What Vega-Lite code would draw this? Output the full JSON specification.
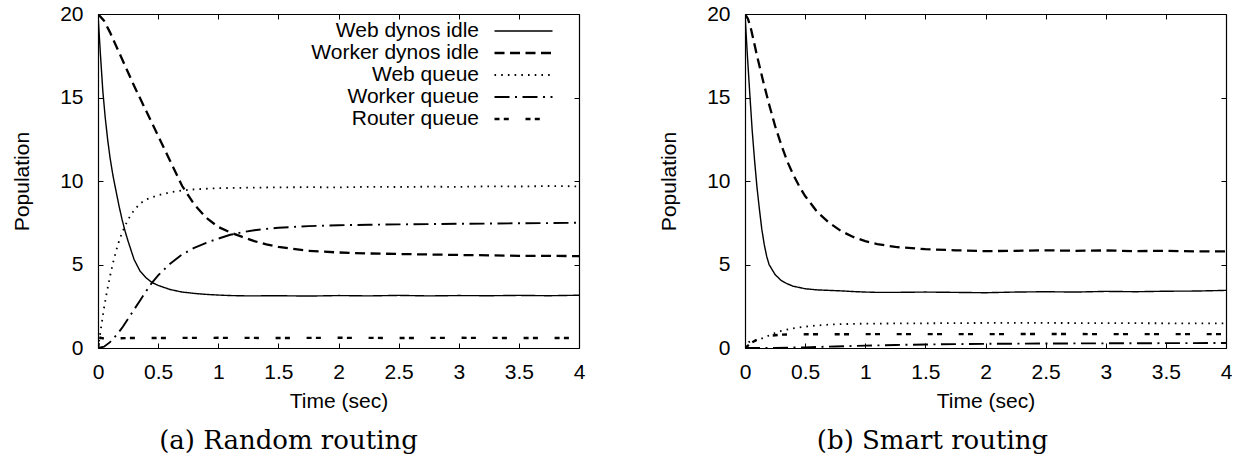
{
  "$schema": "https://vega.github.io/schema/vega-lite/v6.json",
  "padding": {"left": 11, "top": 3, "right": 0, "bottom": 0},
  "spacing": 73,
  "config": {
    "view": {"stroke": null},
    "font": "Liberation Sans",
    "axis": {"grid": false, "domainColor": "black", "domainWidth": 1.2, "tickColor": "black", "tickWidth": 1, "tickSize": -5, "labelColor": "black", "labelFont": "Liberation Sans", "labelFontSize": 21, "titleFont": "Liberation Sans", "titleFontSize": 21, "titleFontWeight": "normal", "titleColor": "black", "labelFlush": false, "labelOverlap": false}
  },
  "data": {"values": [
    {"p":"a","s":"Web dynos idle","t":0,"v":20},{"p":"a","s":"Web dynos idle","t":0.02,"v":17.6},{"p":"a","s":"Web dynos idle","t":0.04,"v":15.4},{"p":"a","s":"Web dynos idle","t":0.06,"v":13.8},{"p":"a","s":"Web dynos idle","t":0.08,"v":12.5},{"p":"a","s":"Web dynos idle","t":0.1,"v":11.4},{"p":"a","s":"Web dynos idle","t":0.125,"v":10.3},{"p":"a","s":"Web dynos idle","t":0.15,"v":9.4},{"p":"a","s":"Web dynos idle","t":0.175,"v":8.5},{"p":"a","s":"Web dynos idle","t":0.2,"v":7.7},{"p":"a","s":"Web dynos idle","t":0.225,"v":7.0},{"p":"a","s":"Web dynos idle","t":0.25,"v":6.4},{"p":"a","s":"Web dynos idle","t":0.3,"v":5.3},{"p":"a","s":"Web dynos idle","t":0.35,"v":4.6},{"p":"a","s":"Web dynos idle","t":0.4,"v":4.2},{"p":"a","s":"Web dynos idle","t":0.45,"v":3.92},{"p":"a","s":"Web dynos idle","t":0.5,"v":3.75},{"p":"a","s":"Web dynos idle","t":0.6,"v":3.5},{"p":"a","s":"Web dynos idle","t":0.7,"v":3.35},{"p":"a","s":"Web dynos idle","t":0.8,"v":3.27},{"p":"a","s":"Web dynos idle","t":0.9,"v":3.21},{"p":"a","s":"Web dynos idle","t":1.0,"v":3.17},{"p":"a","s":"Web dynos idle","t":1.1,"v":3.14},{"p":"a","s":"Web dynos idle","t":1.25,"v":3.12},{"p":"a","s":"Web dynos idle","t":1.5,"v":3.13},{"p":"a","s":"Web dynos idle","t":1.75,"v":3.11},{"p":"a","s":"Web dynos idle","t":2.0,"v":3.14},{"p":"a","s":"Web dynos idle","t":2.25,"v":3.12},{"p":"a","s":"Web dynos idle","t":2.5,"v":3.15},{"p":"a","s":"Web dynos idle","t":2.75,"v":3.12},{"p":"a","s":"Web dynos idle","t":3.0,"v":3.14},{"p":"a","s":"Web dynos idle","t":3.25,"v":3.13},{"p":"a","s":"Web dynos idle","t":3.5,"v":3.15},{"p":"a","s":"Web dynos idle","t":3.75,"v":3.13},{"p":"a","s":"Web dynos idle","t":4.0,"v":3.16},
    {"p":"a","s":"Worker dynos idle","t":0,"v":20},{"p":"a","s":"Worker dynos idle","t":0.05,"v":19.6},{"p":"a","s":"Worker dynos idle","t":0.1,"v":18.9},{"p":"a","s":"Worker dynos idle","t":0.15,"v":18.1},{"p":"a","s":"Worker dynos idle","t":0.2,"v":17.3},{"p":"a","s":"Worker dynos idle","t":0.3,"v":15.7},{"p":"a","s":"Worker dynos idle","t":0.4,"v":14.2},{"p":"a","s":"Worker dynos idle","t":0.5,"v":12.7},{"p":"a","s":"Worker dynos idle","t":0.6,"v":11.2},{"p":"a","s":"Worker dynos idle","t":0.7,"v":9.7},{"p":"a","s":"Worker dynos idle","t":0.8,"v":8.6},{"p":"a","s":"Worker dynos idle","t":0.9,"v":7.8},{"p":"a","s":"Worker dynos idle","t":1.0,"v":7.25},{"p":"a","s":"Worker dynos idle","t":1.1,"v":6.92},{"p":"a","s":"Worker dynos idle","t":1.2,"v":6.65},{"p":"a","s":"Worker dynos idle","t":1.3,"v":6.4},{"p":"a","s":"Worker dynos idle","t":1.4,"v":6.2},{"p":"a","s":"Worker dynos idle","t":1.5,"v":6.05},{"p":"a","s":"Worker dynos idle","t":1.75,"v":5.82},{"p":"a","s":"Worker dynos idle","t":2.0,"v":5.72},{"p":"a","s":"Worker dynos idle","t":2.25,"v":5.66},{"p":"a","s":"Worker dynos idle","t":2.5,"v":5.63},{"p":"a","s":"Worker dynos idle","t":2.75,"v":5.6},{"p":"a","s":"Worker dynos idle","t":3.0,"v":5.57},{"p":"a","s":"Worker dynos idle","t":3.25,"v":5.55},{"p":"a","s":"Worker dynos idle","t":3.5,"v":5.52},{"p":"a","s":"Worker dynos idle","t":3.75,"v":5.52},{"p":"a","s":"Worker dynos idle","t":4.0,"v":5.5},
    {"p":"a","s":"Web queue","t":0,"v":0},{"p":"a","s":"Web queue","t":0.025,"v":1.2},{"p":"a","s":"Web queue","t":0.05,"v":2.4},{"p":"a","s":"Web queue","t":0.075,"v":3.4},{"p":"a","s":"Web queue","t":0.1,"v":4.3},{"p":"a","s":"Web queue","t":0.125,"v":5.1},{"p":"a","s":"Web queue","t":0.15,"v":5.8},{"p":"a","s":"Web queue","t":0.175,"v":6.4},{"p":"a","s":"Web queue","t":0.2,"v":6.9},{"p":"a","s":"Web queue","t":0.25,"v":7.7},{"p":"a","s":"Web queue","t":0.3,"v":8.25},{"p":"a","s":"Web queue","t":0.35,"v":8.65},{"p":"a","s":"Web queue","t":0.4,"v":8.9},{"p":"a","s":"Web queue","t":0.5,"v":9.15},{"p":"a","s":"Web queue","t":0.6,"v":9.32},{"p":"a","s":"Web queue","t":0.7,"v":9.43},{"p":"a","s":"Web queue","t":0.8,"v":9.5},{"p":"a","s":"Web queue","t":1.0,"v":9.57},{"p":"a","s":"Web queue","t":1.25,"v":9.6},{"p":"a","s":"Web queue","t":1.5,"v":9.62},{"p":"a","s":"Web queue","t":1.75,"v":9.63},{"p":"a","s":"Web queue","t":2.0,"v":9.62},{"p":"a","s":"Web queue","t":2.25,"v":9.65},{"p":"a","s":"Web queue","t":2.5,"v":9.64},{"p":"a","s":"Web queue","t":2.75,"v":9.66},{"p":"a","s":"Web queue","t":3.0,"v":9.65},{"p":"a","s":"Web queue","t":3.25,"v":9.68},{"p":"a","s":"Web queue","t":3.5,"v":9.67},{"p":"a","s":"Web queue","t":3.75,"v":9.7},{"p":"a","s":"Web queue","t":4.0,"v":9.68},
    {"p":"a","s":"Worker queue","t":0,"v":0},{"p":"a","s":"Worker queue","t":0.05,"v":0.08},{"p":"a","s":"Worker queue","t":0.1,"v":0.35},{"p":"a","s":"Worker queue","t":0.15,"v":0.75},{"p":"a","s":"Worker queue","t":0.2,"v":1.2},{"p":"a","s":"Worker queue","t":0.25,"v":1.75},{"p":"a","s":"Worker queue","t":0.3,"v":2.3},{"p":"a","s":"Worker queue","t":0.35,"v":2.85},{"p":"a","s":"Worker queue","t":0.4,"v":3.4},{"p":"a","s":"Worker queue","t":0.45,"v":3.92},{"p":"a","s":"Worker queue","t":0.5,"v":4.35},{"p":"a","s":"Worker queue","t":0.6,"v":5.05},{"p":"a","s":"Worker queue","t":0.7,"v":5.6},{"p":"a","s":"Worker queue","t":0.8,"v":6.0},{"p":"a","s":"Worker queue","t":0.9,"v":6.3},{"p":"a","s":"Worker queue","t":1.0,"v":6.55},{"p":"a","s":"Worker queue","t":1.1,"v":6.78},{"p":"a","s":"Worker queue","t":1.2,"v":6.93},{"p":"a","s":"Worker queue","t":1.3,"v":7.05},{"p":"a","s":"Worker queue","t":1.4,"v":7.13},{"p":"a","s":"Worker queue","t":1.5,"v":7.2},{"p":"a","s":"Worker queue","t":1.75,"v":7.3},{"p":"a","s":"Worker queue","t":2.0,"v":7.35},{"p":"a","s":"Worker queue","t":2.25,"v":7.38},{"p":"a","s":"Worker queue","t":2.5,"v":7.4},{"p":"a","s":"Worker queue","t":2.75,"v":7.42},{"p":"a","s":"Worker queue","t":3.0,"v":7.44},{"p":"a","s":"Worker queue","t":3.25,"v":7.45},{"p":"a","s":"Worker queue","t":3.5,"v":7.47},{"p":"a","s":"Worker queue","t":3.75,"v":7.48},{"p":"a","s":"Worker queue","t":4.0,"v":7.5},
    {"p":"a","s":"Router queue","t":0,"v":0},{"p":"a","s":"Router queue","t":0.01,"v":0.45},{"p":"a","s":"Router queue","t":0.02,"v":0.62},{"p":"a","s":"Router queue","t":0.04,"v":0.58},{"p":"a","s":"Router queue","t":0.08,"v":0.56},{"p":"a","s":"Router queue","t":0.15,"v":0.58},{"p":"a","s":"Router queue","t":0.3,"v":0.6},{"p":"a","s":"Router queue","t":0.5,"v":0.6},{"p":"a","s":"Router queue","t":1.0,"v":0.61},{"p":"a","s":"Router queue","t":1.5,"v":0.6},{"p":"a","s":"Router queue","t":2.0,"v":0.61},{"p":"a","s":"Router queue","t":2.5,"v":0.6},{"p":"a","s":"Router queue","t":3.0,"v":0.61},{"p":"a","s":"Router queue","t":3.5,"v":0.6},{"p":"a","s":"Router queue","t":4.0,"v":0.6},
    {"p":"b","s":"Web dynos idle","t":0,"v":20},{"p":"b","s":"Web dynos idle","t":0.02,"v":17.5},{"p":"b","s":"Web dynos idle","t":0.04,"v":15.2},{"p":"b","s":"Web dynos idle","t":0.06,"v":13.0},{"p":"b","s":"Web dynos idle","t":0.08,"v":11.2},{"p":"b","s":"Web dynos idle","t":0.1,"v":9.6},{"p":"b","s":"Web dynos idle","t":0.12,"v":8.3},{"p":"b","s":"Web dynos idle","t":0.14,"v":7.1},{"p":"b","s":"Web dynos idle","t":0.16,"v":6.2},{"p":"b","s":"Web dynos idle","t":0.18,"v":5.5},{"p":"b","s":"Web dynos idle","t":0.2,"v":5.0},{"p":"b","s":"Web dynos idle","t":0.25,"v":4.4},{"p":"b","s":"Web dynos idle","t":0.3,"v":4.05},{"p":"b","s":"Web dynos idle","t":0.35,"v":3.85},{"p":"b","s":"Web dynos idle","t":0.4,"v":3.7},{"p":"b","s":"Web dynos idle","t":0.5,"v":3.55},{"p":"b","s":"Web dynos idle","t":0.6,"v":3.48},{"p":"b","s":"Web dynos idle","t":0.7,"v":3.45},{"p":"b","s":"Web dynos idle","t":0.8,"v":3.42},{"p":"b","s":"Web dynos idle","t":0.9,"v":3.38},{"p":"b","s":"Web dynos idle","t":1.0,"v":3.35},{"p":"b","s":"Web dynos idle","t":1.1,"v":3.33},{"p":"b","s":"Web dynos idle","t":1.25,"v":3.33},{"p":"b","s":"Web dynos idle","t":1.5,"v":3.35},{"p":"b","s":"Web dynos idle","t":1.75,"v":3.33},{"p":"b","s":"Web dynos idle","t":2.0,"v":3.31},{"p":"b","s":"Web dynos idle","t":2.25,"v":3.35},{"p":"b","s":"Web dynos idle","t":2.5,"v":3.37},{"p":"b","s":"Web dynos idle","t":2.75,"v":3.35},{"p":"b","s":"Web dynos idle","t":3.0,"v":3.39},{"p":"b","s":"Web dynos idle","t":3.25,"v":3.37},{"p":"b","s":"Web dynos idle","t":3.5,"v":3.4},{"p":"b","s":"Web dynos idle","t":3.75,"v":3.41},{"p":"b","s":"Web dynos idle","t":4.0,"v":3.45},
    {"p":"b","s":"Worker dynos idle","t":0,"v":20},{"p":"b","s":"Worker dynos idle","t":0.025,"v":19.7},{"p":"b","s":"Worker dynos idle","t":0.05,"v":19.1},{"p":"b","s":"Worker dynos idle","t":0.075,"v":18.3},{"p":"b","s":"Worker dynos idle","t":0.1,"v":17.5},{"p":"b","s":"Worker dynos idle","t":0.15,"v":16.0},{"p":"b","s":"Worker dynos idle","t":0.2,"v":14.6},{"p":"b","s":"Worker dynos idle","t":0.25,"v":13.3},{"p":"b","s":"Worker dynos idle","t":0.3,"v":12.2},{"p":"b","s":"Worker dynos idle","t":0.35,"v":11.2},{"p":"b","s":"Worker dynos idle","t":0.4,"v":10.4},{"p":"b","s":"Worker dynos idle","t":0.45,"v":9.7},{"p":"b","s":"Worker dynos idle","t":0.5,"v":9.1},{"p":"b","s":"Worker dynos idle","t":0.6,"v":8.15},{"p":"b","s":"Worker dynos idle","t":0.7,"v":7.5},{"p":"b","s":"Worker dynos idle","t":0.8,"v":7.0},{"p":"b","s":"Worker dynos idle","t":0.9,"v":6.65},{"p":"b","s":"Worker dynos idle","t":1.0,"v":6.4},{"p":"b","s":"Worker dynos idle","t":1.1,"v":6.22},{"p":"b","s":"Worker dynos idle","t":1.25,"v":6.05},{"p":"b","s":"Worker dynos idle","t":1.5,"v":5.92},{"p":"b","s":"Worker dynos idle","t":1.75,"v":5.85},{"p":"b","s":"Worker dynos idle","t":2.0,"v":5.8},{"p":"b","s":"Worker dynos idle","t":2.25,"v":5.82},{"p":"b","s":"Worker dynos idle","t":2.5,"v":5.85},{"p":"b","s":"Worker dynos idle","t":2.75,"v":5.82},{"p":"b","s":"Worker dynos idle","t":3.0,"v":5.84},{"p":"b","s":"Worker dynos idle","t":3.25,"v":5.8},{"p":"b","s":"Worker dynos idle","t":3.5,"v":5.82},{"p":"b","s":"Worker dynos idle","t":3.75,"v":5.78},{"p":"b","s":"Worker dynos idle","t":4.0,"v":5.78},
    {"p":"b","s":"Web queue","t":0,"v":0},{"p":"b","s":"Web queue","t":0.03,"v":0.35},{"p":"b","s":"Web queue","t":0.06,"v":0.42},{"p":"b","s":"Web queue","t":0.1,"v":0.48},{"p":"b","s":"Web queue","t":0.15,"v":0.6},{"p":"b","s":"Web queue","t":0.2,"v":0.75},{"p":"b","s":"Web queue","t":0.25,"v":0.9},{"p":"b","s":"Web queue","t":0.3,"v":1.02},{"p":"b","s":"Web queue","t":0.4,"v":1.18},{"p":"b","s":"Web queue","t":0.5,"v":1.28},{"p":"b","s":"Web queue","t":0.6,"v":1.35},{"p":"b","s":"Web queue","t":0.7,"v":1.4},{"p":"b","s":"Web queue","t":0.8,"v":1.43},{"p":"b","s":"Web queue","t":1.0,"v":1.46},{"p":"b","s":"Web queue","t":1.5,"v":1.48},{"p":"b","s":"Web queue","t":2.0,"v":1.5},{"p":"b","s":"Web queue","t":2.5,"v":1.5},{"p":"b","s":"Web queue","t":3.0,"v":1.49},{"p":"b","s":"Web queue","t":3.5,"v":1.48},{"p":"b","s":"Web queue","t":4.0,"v":1.48},
    {"p":"b","s":"Worker queue","t":0,"v":0},{"p":"b","s":"Worker queue","t":0.25,"v":0.01},{"p":"b","s":"Worker queue","t":0.5,"v":0.04},{"p":"b","s":"Worker queue","t":0.75,"v":0.09},{"p":"b","s":"Worker queue","t":1.0,"v":0.14},{"p":"b","s":"Worker queue","t":1.25,"v":0.18},{"p":"b","s":"Worker queue","t":1.5,"v":0.21},{"p":"b","s":"Worker queue","t":1.75,"v":0.23},{"p":"b","s":"Worker queue","t":2.0,"v":0.25},{"p":"b","s":"Worker queue","t":2.5,"v":0.27},{"p":"b","s":"Worker queue","t":3.0,"v":0.28},{"p":"b","s":"Worker queue","t":3.5,"v":0.29},{"p":"b","s":"Worker queue","t":4.0,"v":0.3},
    {"p":"b","s":"Router queue","t":0,"v":0},{"p":"b","s":"Router queue","t":0.05,"v":0.3},{"p":"b","s":"Router queue","t":0.1,"v":0.5},{"p":"b","s":"Router queue","t":0.15,"v":0.62},{"p":"b","s":"Router queue","t":0.2,"v":0.72},{"p":"b","s":"Router queue","t":0.3,"v":0.8},{"p":"b","s":"Router queue","t":0.5,"v":0.82},{"p":"b","s":"Router queue","t":1.0,"v":0.83},{"p":"b","s":"Router queue","t":1.5,"v":0.83},{"p":"b","s":"Router queue","t":2.0,"v":0.83},{"p":"b","s":"Router queue","t":2.5,"v":0.84},{"p":"b","s":"Router queue","t":3.0,"v":0.83},{"p":"b","s":"Router queue","t":3.5,"v":0.83},{"p":"b","s":"Router queue","t":4.0,"v":0.83}
  ]},
  "hconcat": [
    {
      "width": 481, "height": 334,
      "title": {"text": "(a) Random routing", "orient": "bottom", "anchor": "middle", "frame": "group", "dx": -50, "font": "DejaVu Serif", "fontSize": 26, "fontWeight": "normal", "color": "black", "offset": 17},
      "transform": [{"filter": "datum.p == 'a'"}],
      "layer": [
        {
          "mark": {"type": "line", "color": "black", "clip": true},
          "encoding": {
            "x": {"field": "t", "type": "quantitative", "scale": {"domain": [0, 4], "nice": false, "zero": false}, "axis": {"orient": "bottom", "values": [0, 0.5, 1, 1.5, 2, 2.5, 3, 3.5, 4], "format": "~g", "title": "Time (sec)", "labelPadding": 18, "titlePadding": 8}},
            "y": {"field": "v", "type": "quantitative", "scale": {"domain": [0, 20], "nice": false}, "axis": {"orient": "left", "values": [0, 5, 10, 15, 20], "title": "Population", "labelPadding": 20, "titlePadding": 27}},
            "strokeDash": {"field": "s", "type": "nominal", "scale": {"domain": ["Web dynos idle", "Worker dynos idle", "Web queue", "Worker queue", "Router queue"], "range": [[1, 0], [10, 5.5], [1.6, 5.1], [15, 5.5, 2, 5.5], [5, 4.3, 5, 16.7]]}, "legend": {"orient": "none", "legendX": 395, "legendY": 6, "title": null, "labelAlign": "right", "labelOffset": -75, "symbolSize": 3364, "clipHeight": 22, "symbolType": "stroke", "labelFont": "Liberation Sans", "labelFontSize": 21, "labelColor": "black", "symbolStrokeColor": "black", "rowPadding": 0, "padding": 0, "labelLimit": 0, "encode": {"entries": {"update": {"width": {"value": 72}, "height": {"value": 22}}}}}},
            "strokeWidth": {"field": "s", "type": "ordinal", "scale": {"type": "ordinal", "domain": ["Web dynos idle", "Worker dynos idle", "Web queue", "Worker queue", "Router queue"], "range": [1.4, 2.3, 1.8, 1.9, 2.4]}, "legend": {"orient": "none", "legendX": 395, "legendY": 6, "title": null, "labelAlign": "right", "labelOffset": -75, "symbolSize": 3364, "clipHeight": 22, "symbolType": "stroke", "labelFont": "Liberation Sans", "labelFontSize": 21, "labelColor": "black", "symbolStrokeColor": "black", "rowPadding": 0, "padding": 0, "labelLimit": 0, "encode": {"entries": {"update": {"width": {"value": 72}, "height": {"value": 22}}}}}}
          }
        },
        {
          "mark": {"type": "point", "opacity": 0},
          "encoding": {
            "x": {"field": "t", "type": "quantitative", "scale": {"domain": [0, 4], "nice": false, "zero": false}, "axis": {"orient": "top", "values": [0, 0.5, 1, 1.5, 2, 2.5, 3, 3.5, 4], "labels": false, "title": null}},
            "y": {"field": "v", "type": "quantitative", "scale": {"domain": [0, 20], "nice": false}, "axis": {"orient": "right", "values": [0, 5, 10, 15, 20], "labels": false, "title": null}}
          }
        }
      ],
      "resolve": {"axis": {"x": "independent", "y": "independent"}}
    },
    {
      "width": 481, "height": 334,
      "title": {"text": "(b) Smart routing", "orient": "bottom", "anchor": "middle", "frame": "group", "dx": -53, "font": "DejaVu Serif", "fontSize": 26, "fontWeight": "normal", "color": "black", "offset": 17},
      "transform": [{"filter": "datum.p == 'b'"}],
      "layer": [
        {
          "mark": {"type": "line", "color": "black", "clip": true},
          "encoding": {
            "x": {"field": "t", "type": "quantitative", "scale": {"domain": [0, 4], "nice": false, "zero": false}, "axis": {"orient": "bottom", "values": [0, 0.5, 1, 1.5, 2, 2.5, 3, 3.5, 4], "format": "~g", "title": "Time (sec)", "labelPadding": 18, "titlePadding": 8}},
            "y": {"field": "v", "type": "quantitative", "scale": {"domain": [0, 20], "nice": false}, "axis": {"orient": "left", "values": [0, 5, 10, 15, 20], "title": "Population", "labelPadding": 20, "titlePadding": 27}},
            "strokeDash": {"field": "s", "type": "nominal", "scale": {"domain": ["Web dynos idle", "Worker dynos idle", "Web queue", "Worker queue", "Router queue"], "range": [[1, 0], [10, 5.5], [1.6, 5.1], [15, 5.5, 2, 5.5], [5, 4.3, 5, 16.7]]}, "legend": {"orient": "none", "legendX": 397, "legendY": 6, "title": null, "labelAlign": "right", "labelOffset": -75, "symbolSize": 3364, "clipHeight": 22, "symbolType": "stroke", "labelFont": "Liberation Sans", "labelFontSize": 21, "labelColor": "black", "symbolStrokeColor": "black", "rowPadding": 0, "padding": 0, "labelLimit": 0, "encode": {"entries": {"update": {"width": {"value": 72}, "height": {"value": 22}}}}}},
            "strokeWidth": {"field": "s", "type": "ordinal", "scale": {"type": "ordinal", "domain": ["Web dynos idle", "Worker dynos idle", "Web queue", "Worker queue", "Router queue"], "range": [1.4, 2.3, 1.8, 1.9, 2.4]}, "legend": {"orient": "none", "legendX": 397, "legendY": 6, "title": null, "labelAlign": "right", "labelOffset": -75, "symbolSize": 3364, "clipHeight": 22, "symbolType": "stroke", "labelFont": "Liberation Sans", "labelFontSize": 21, "labelColor": "black", "symbolStrokeColor": "black", "rowPadding": 0, "padding": 0, "labelLimit": 0, "encode": {"entries": {"update": {"width": {"value": 72}, "height": {"value": 22}}}}}}
          }
        },
        {
          "mark": {"type": "point", "opacity": 0},
          "encoding": {
            "x": {"field": "t", "type": "quantitative", "scale": {"domain": [0, 4], "nice": false, "zero": false}, "axis": {"orient": "top", "values": [0, 0.5, 1, 1.5, 2, 2.5, 3, 3.5, 4], "labels": false, "title": null}},
            "y": {"field": "v", "type": "quantitative", "scale": {"domain": [0, 20], "nice": false}, "axis": {"orient": "right", "values": [0, 5, 10, 15, 20], "labels": false, "title": null}}
          }
        }
      ],
      "resolve": {"axis": {"x": "independent", "y": "independent"}}
    }
  ]
}
